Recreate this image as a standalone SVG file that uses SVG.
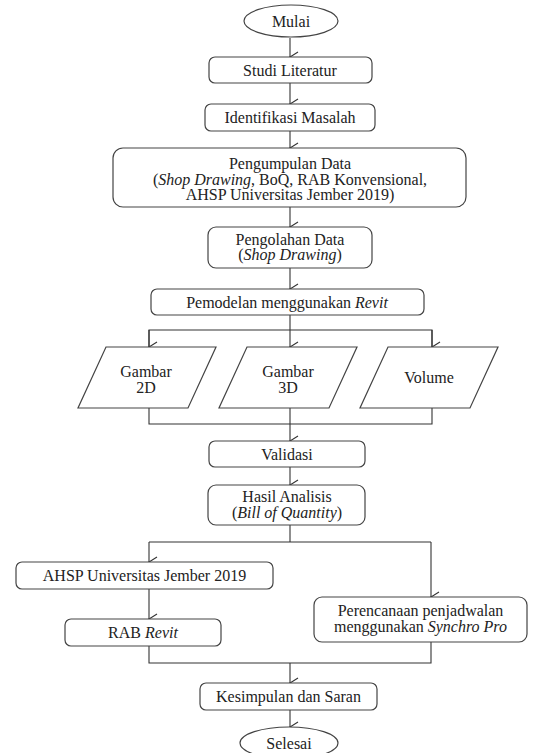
<svg xmlns="http://www.w3.org/2000/svg" width="540" height="753" viewBox="0 0 540 753">
<defs>
<marker id="arr" viewBox="0 0 12 12" refX="6" refY="11" markerWidth="12" markerHeight="12" markerUnits="userSpaceOnUse" orient="auto-start-reverse">
<polyline points="1,3 6,11 11,3" fill="none" stroke="#333" stroke-width="1.1"/>
</marker>
<style>
.n{fill:#fff;stroke:#444;stroke-width:1.2}
.c{fill:none;stroke:#333;stroke-width:1.1}
.a{marker-end:url(#arr)}
text{font-family:'Liberation Serif','Times New Roman','DejaVu Serif',serif;font-size:16px;fill:#222;text-anchor:middle}
.i{font-style:italic}
</style>
</defs>
<rect width="540" height="753" fill="#fff"/>
<g id="connectors">
<line class="c a" x1="290" y1="38" x2="290" y2="57"/>
<line class="c a" x1="290" y1="83" x2="290" y2="104"/>
<line class="c a" x1="290" y1="131" x2="290" y2="148"/>
<line class="c a" x1="290" y1="207" x2="290" y2="227"/>
<line class="c a" x1="290" y1="268" x2="290" y2="289"/>
<line class="c a" x1="290" y1="315" x2="290" y2="347"/>
<polyline class="c" points="149,347 149,330 432,330 432,347"/>
<line class="c a" x1="149" y1="330" x2="149" y2="347"/>
<line class="c a" x1="432" y1="330" x2="432" y2="347"/>
<polyline class="c" points="149,408 149,424 432,424 432,408"/>
<line class="c a" x1="290" y1="408" x2="290" y2="441"/>
<line class="c a" x1="290" y1="467" x2="290" y2="485"/>
<line class="c" x1="290" y1="525" x2="290" y2="542"/>
<line class="c" x1="149" y1="542" x2="431" y2="542"/>
<line class="c a" x1="149" y1="542" x2="149" y2="562"/>
<line class="c a" x1="431" y1="542" x2="431" y2="597"/>
<line class="c a" x1="149" y1="589" x2="149" y2="619"/>
<polyline class="c" points="149,646 149,663 431,663 431,642"/>
<line class="c a" x1="290" y1="663" x2="290" y2="683"/>
<line class="c a" x1="290" y1="710" x2="290" y2="727"/>
</g>
<g id="mulai">
<ellipse class="n" cx="291" cy="21" rx="47" ry="16"/>
<text x="291" y="26.5">Mulai</text>
</g>
<g id="studi">
<rect class="n" x="209" y="57" width="163" height="26" rx="6"/>
<text x="290" y="75.5">Studi Literatur</text>
</g>
<g id="identifikasi">
<rect class="n" x="205" y="104" width="170" height="27" rx="6"/>
<text x="290" y="123">Identifikasi Masalah</text>
</g>
<g id="pengumpulan">
<rect class="n" x="113" y="148" width="353" height="59" rx="10"/>
<text x="290" y="169">Pengumpulan Data</text>
<text x="290" y="184.5">(<tspan class="i">Shop Drawing</tspan>, BoQ, RAB Konvensional,</text>
<text x="290" y="200">AHSP Universitas Jember 2019)</text>
</g>
<g id="pengolahan">
<rect class="n" x="208" y="227" width="164" height="41" rx="8"/>
<text x="290" y="244.5">Pengolahan Data</text>
<text x="290" y="260">(<tspan class="i">Shop Drawing</tspan>)</text>
</g>
<g id="pemodelan">
<rect class="n" x="151" y="289" width="273" height="26" rx="6"/>
<text x="287" y="307.5">Pemodelan menggunakan <tspan class="i">Revit</tspan></text>
</g>
<g id="gambar2d">
<polygon class="n" points="106,347 216,347 188,408 78,408"/>
<text x="146" y="377">Gambar</text>
<text x="146" y="393">2D</text>
</g>
<g id="gambar3d">
<polygon class="n" points="247,347 357,347 329,408 219,408"/>
<text x="288" y="377">Gambar</text>
<text x="288" y="393">3D</text>
</g>
<g id="volume">
<polygon class="n" points="388,347 498,347 470,408 360,408"/>
<text x="429" y="383">Volume</text>
</g>
<g id="validasi">
<rect class="n" x="209" y="441" width="156" height="26" rx="6"/>
<text x="287" y="459.5">Validasi</text>
</g>
<g id="hasil">
<rect class="n" x="208" y="485" width="157" height="40" rx="8"/>
<text x="287" y="502">Hasil Analisis</text>
<text x="287" y="518">(<tspan class="i">Bill of Quantity</tspan>)</text>
</g>
<g id="ahsp">
<rect class="n" x="16" y="562" width="257" height="27" rx="6"/>
<text x="144.5" y="581">AHSP Universitas Jember 2019</text>
</g>
<g id="rab">
<rect class="n" x="65" y="619" width="156" height="27" rx="6"/>
<text x="143" y="638">RAB <tspan class="i">Revit</tspan></text>
</g>
<g id="perencanaan">
<rect class="n" x="314" y="597" width="213" height="45" rx="8"/>
<text x="420.5" y="616">Perencanaan penjadwalan</text>
<text x="420.5" y="632">menggunakan <tspan class="i">Synchro Pro</tspan></text>
</g>
<g id="kesimpulan">
<rect class="n" x="200" y="683" width="177" height="27" rx="6"/>
<text x="288.5" y="702">Kesimpulan dan Saran</text>
</g>
<g id="selesai">
<ellipse class="n" cx="289" cy="743" rx="49" ry="16"/>
<text x="289" y="749">Selesai</text>
</g>
</svg>
